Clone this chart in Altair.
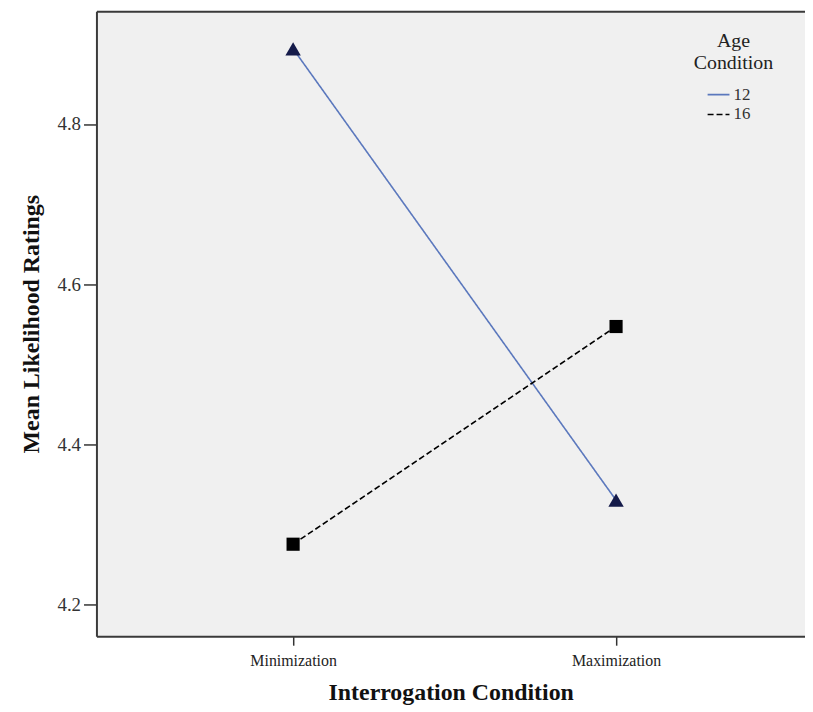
import altair as alt
import pandas as pd

conditions = ["Minimization", "Maximization"]
ages = ["12", "16"]
means_12 = [4.894, 4.330]
means_16 = [4.275, 4.547]

rows = []
for age, vals in zip(ages, [means_12, means_16]):
    for c, v in zip(conditions, vals):
        rows.append({"condition": c, "age": age, "age_marker": age, "mean": v})
df = pd.DataFrame(rows)

SERIF = "Liberation Serif"
line_colors = ["#5b78bd", "#000000"]
marker_fills = ["#151b4a", "#000000"]

xscale = alt.Scale(domain=conditions, padding=0.597, align=0.51)
yscale = alt.Scale(domain=[4.16, 4.941], zero=False, nice=False)

legend = alt.Legend(
    title=["Age", "Condition"], orient="none", legendX=601, legendY=20, padding=0,
    titleFont=SERIF, titleFontSize=20, titleFontWeight="normal", titleColor="#222",
    titleAnchor="middle", titleAlign="center", titleLineHeight=22, titlePadding=10,
    labelFont=SERIF, labelFontSize=17, labelColor="#333", labelOffset=3,
    symbolType="stroke", symbolSize=484, symbolStrokeWidth=1.6, symbolOffset=-9,
    rowPadding=0,
)

x_bottom = alt.X(
    "condition:N", sort=conditions, scale=xscale,
    axis=alt.Axis(orient="bottom", title="Interrogation Condition", labelAngle=0,
                  labelFont=SERIF, labelFontSize=16, labelColor="#222",
                  labelPadding=7, tickSize=9, tickColor="#333", tickWidth=1.5,
                  domainColor="#3a3a3a", domainWidth=2,
                  titleFont=SERIF, titleFontSize=24, titleFontWeight="bold",
                  titleColor="#111", titlePadding=13),
)
y_enc = alt.Y(
    "mean:Q", scale=yscale,
    axis=alt.Axis(title="Mean Likelihood Ratings", values=[4.2, 4.4, 4.6, 4.8],
                  format=".1f", grid=False, labelFont=SERIF, labelFontSize=19,
                  labelColor="#333", labelPadding=3, tickSize=13, tickColor="#333",
                  tickWidth=1.5, domainColor="#3a3a3a", domainWidth=2,
                  titleFont=SERIF, titleFontSize=24, titleFontWeight="bold",
                  titleColor="#111", titlePadding=14),
)

lines = alt.Chart(df).mark_line(strokeWidth=1.6).encode(
    x=x_bottom,
    y=y_enc,
    color=alt.Color("age:N", scale=alt.Scale(domain=ages, range=line_colors), legend=legend),
    strokeDash=alt.StrokeDash("age:N", scale=alt.Scale(domain=ages, range=[[1, 0], [6, 3]]),
                              legend=legend),
)

points = alt.Chart(df).mark_point(filled=True, opacity=1).encode(
    x=alt.X("condition:N", sort=conditions, scale=xscale,
            axis=alt.Axis(orient="top", labels=False, ticks=False, title=None,
                          domainColor="#3a3a3a", domainWidth=2)),
    y=alt.Y("mean:Q", scale=yscale),
    shape=alt.Shape("age_marker:N", scale=alt.Scale(range=["triangle-up", "square"]), legend=None),
    fill=alt.Fill("age_marker:N", scale=alt.Scale(range=marker_fills), legend=None),
    size=alt.Size("age_marker:N", scale=alt.Scale(range=[240, 175]), legend=None),
)

chart = alt.layer(lines, points).properties(
    width=713, height=629,
    autosize=alt.AutoSizeParams(type="none"),
    padding={"left": 89, "top": 1, "right": 0, "bottom": 70},
    view=alt.ViewBackground(fill="#f0f0f0", stroke=None),
).configure_view(
    fill="#f0f0f0", stroke=None,
).configure(background="white")

chart.save("out.html", embed_options={"renderer": "svg", "actions": False})
